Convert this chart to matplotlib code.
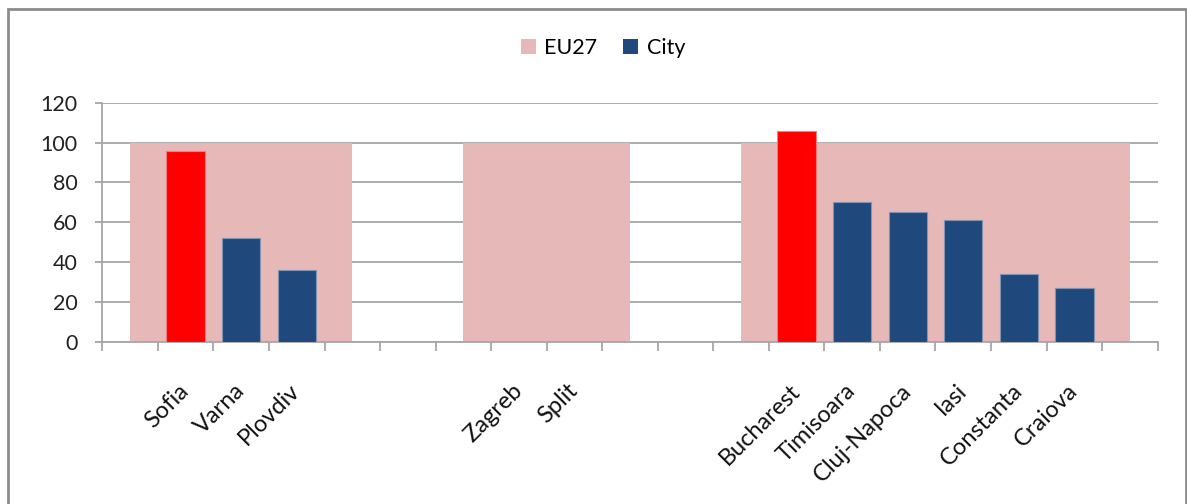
import numpy as np
import matplotlib
matplotlib.use("Agg")
import matplotlib.pyplot as plt
from matplotlib.patches import Patch, Rectangle

plt.rcParams['font.family'] = ['Lato', 'DejaVu Sans']

# Category slots along the x axis (blank slots separate the country groups)
categories = ["", "Sofia", "Varna", "Plovdiv", "", "", "", "Zagreb", "Split", "",
              "", "", "Bucharest", "Timisoara", "Cluj-Napoca", "Iasi", "Constanta",
              "Craiova", ""]
# EU27 reference level for each slot (NaN = gap between country groups)
eu27 = [100, 100, 100, 100, 100, np.nan, 100, 100, 100, 100,
        np.nan, 100, 100, 100, 100, 100, 100, 100, 100]
# City values (NaN = no bar)
city = [np.nan, 96, 52, 36, np.nan, np.nan, np.nan, np.nan, np.nan, np.nan,
        np.nan, np.nan, 106, 70, 65, 61, 34, 27, np.nan]
# Capital cities are highlighted
capital = [False, True, False, False, False, False, False, False, False, False,
           False, False, True, False, False, False, False, False, False]
yticks = [0, 20, 40, 60, 80, 100, 120]

PINK = "#E6B8B7"
NAVY = "#1F497D"
RED = "#FF0000"
GRID = "#A6A6A6"

fig = plt.figure(figsize=(11.87, 5.04), dpi=100)
ax = fig.add_axes([0.0862, 0.322, 0.9753 - 0.0862, 0.796 - 0.322])

x = np.arange(len(categories))
eu = np.array(eu27, dtype=float)
ax.fill_between(x, 0, eu, color=PINK, linewidth=0, zorder=2)

vals = np.array(city, dtype=float)
colors = [RED if c else NAVY for c in capital]
edges = ["#F08080" if c else "#8093B0" for c in capital]
mask = ~np.isnan(vals)
ax.bar(x[mask], vals[mask], width=0.69, color=np.array(colors)[mask],
       edgecolor=np.array(edges)[mask], linewidth=0.8, zorder=3)

ax.set_xlim(-0.5, len(categories) - 0.5)
ax.set_ylim(0, 120)
ax.set_yticks(yticks)
ax.set_yticklabels([str(v) for v in yticks], fontsize=15.5, color="#222222")
ax.yaxis.grid(True, color=GRID, linewidth=1.3, zorder=1)
ax.set_axisbelow(True)

ax.set_xticks(x)
ax.set_xticklabels(categories, rotation=45, ha="right", va="center",
                   rotation_mode="anchor", fontsize=17, color="#111111")
ax.set_xticks(np.arange(-0.5, len(categories)), minor=True)
ax.tick_params(axis="x", which="major", length=0, pad=33)
ax.tick_params(axis="x", which="minor", length=6.5, width=1.3, color=GRID)
ax.tick_params(axis="y", length=5, width=1.3, color=GRID, pad=13)

for side in ("top", "right"):
    ax.spines[side].set_visible(False)
for side in ("left", "bottom"):
    ax.spines[side].set_color(GRID)
    ax.spines[side].set_linewidth(1.3)

handles = [Patch(facecolor=PINK, edgecolor="none", label="EU27"),
           Patch(facecolor=NAVY, edgecolor="none", label="City")]
fig.legend(handles=handles, loc="center", bbox_to_anchor=(0.508, 0.905), ncol=2,
           frameon=False, fontsize=15.5, handlelength=0.7, handleheight=0.7,
           handletextpad=0.4, columnspacing=1.2)

# Outer chart frame
fig.patches.append(Rectangle((8.3 / 1187, -0.1), (1186.2 - 8.3) / 1187,
                             1 - 8.5 / 504 + 0.1, transform=fig.transFigure,
                             fill=False, edgecolor="#8C8C8C", linewidth=2))

fig.savefig("out.png", dpi=100)
